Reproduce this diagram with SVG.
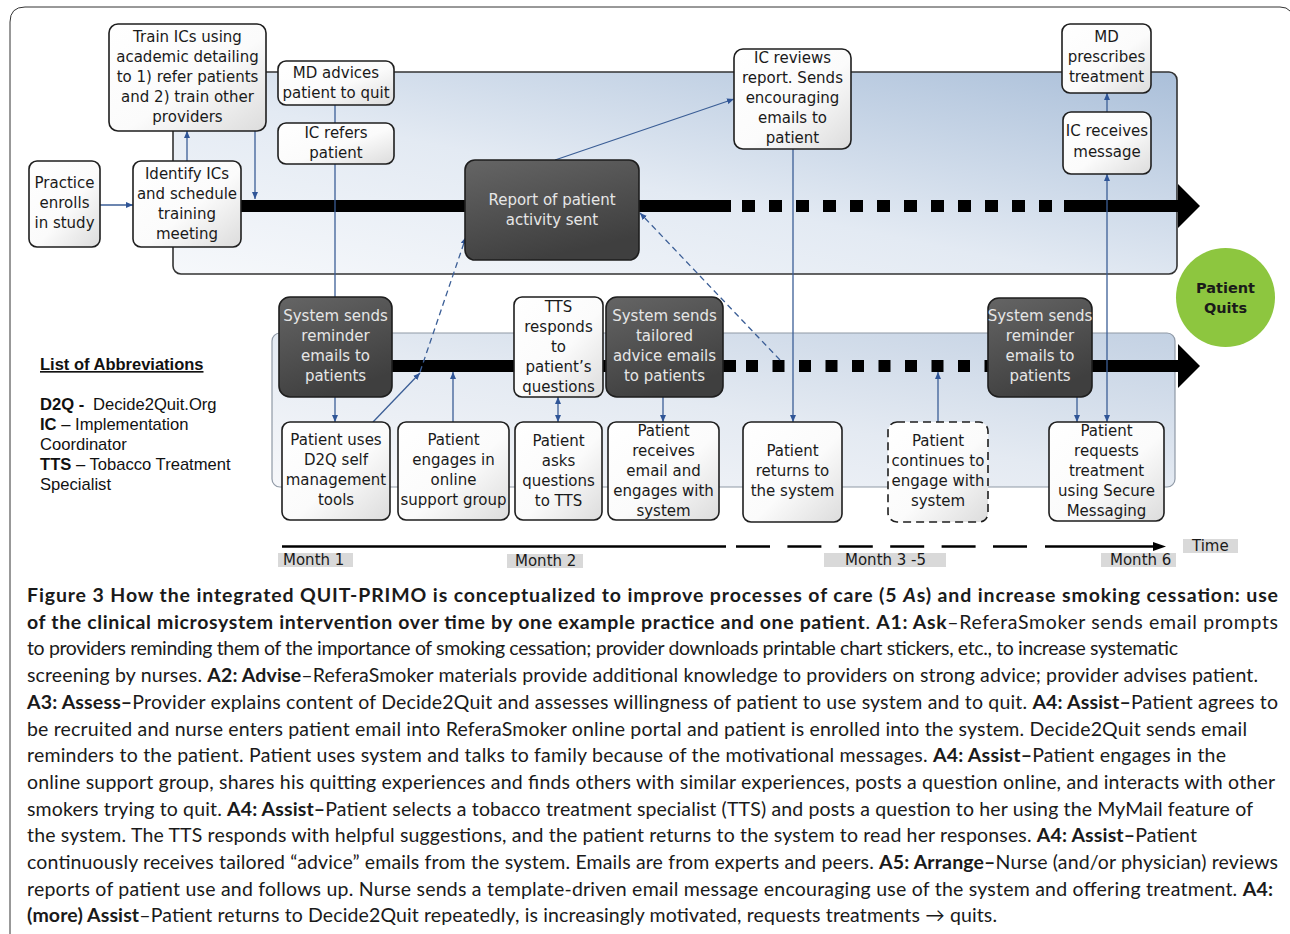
<svg xmlns="http://www.w3.org/2000/svg" width="1290" height="934" viewBox="0 0 1290 934">
<defs>
<linearGradient id="gUp" x1="0" y1="1" x2="1" y2="0">
<stop offset="0" stop-color="#f6f8fb"/><stop offset="0.45" stop-color="#e3eaf3"/><stop offset="1" stop-color="#aabfd9"/>
</linearGradient>
<linearGradient id="gLo" x1="0" y1="1" x2="1" y2="0">
<stop offset="0" stop-color="#f6f7fa"/><stop offset="0.5" stop-color="#e4eaf2"/><stop offset="1" stop-color="#c3d1e3"/>
</linearGradient>
<linearGradient id="gW" x1="0" y1="0" x2="1" y2="1">
<stop offset="0" stop-color="#ffffff"/><stop offset="0.55" stop-color="#fbfbfb"/><stop offset="1" stop-color="#dcdcdc"/>
</linearGradient>
<linearGradient id="gD" x1="0" y1="0" x2="0.4" y2="1">
<stop offset="0" stop-color="#656565"/><stop offset="1" stop-color="#3f3f3f"/>
</linearGradient>
<marker id="ah" viewBox="0 0 7 6" refX="7" refY="3" markerWidth="7" markerHeight="6" markerUnits="userSpaceOnUse" orient="auto-start-reverse">
<path d="M0,0 L7,3 L0,6 z" fill="#2f5597"/>
</marker>
<style>
.w{fill:url(#gW);stroke:#1e1e1e;stroke-width:1.6}
.d{fill:url(#gD);stroke:#1e1e1e;stroke-width:1.6}
.t{font-family:"DejaVu Sans",Verdana,sans-serif;font-size:15px;fill:#1a1a1a;text-anchor:middle}
.td{font-family:"DejaVu Sans",Verdana,sans-serif;font-size:15px;fill:#e6e6e6;text-anchor:middle}
.c{fill:none;stroke:#3b5e96;stroke-width:1.3}
.cd{fill:none;stroke:#3b5e96;stroke-width:1.3;stroke-dasharray:6 4}
.bar{stroke:#000;fill:none}
.ml{fill:#d9d9d9}
.mt{font-family:"DejaVu Sans",Verdana,sans-serif;font-size:15px;fill:#1a1a1a}
.ab{font-family:"Liberation Sans",Arial,sans-serif;font-size:16.6px;fill:#111}
.cap{font-family:Lato,"Open Sans",sans-serif;font-size:19.5px;fill:#1a1a1a}
.b{font-weight:700}
</style>
</defs>
<rect width="1290" height="934" fill="#ffffff"/>
<path d="M10,934 V22 Q10,7 25,7 H1280 Q1287,7 1290,11" fill="none" stroke="#333" stroke-width="1"/>

<g id="bands">
<rect x="173" y="72" width="1004" height="202" rx="8" fill="url(#gUp)" stroke="#333" stroke-width="1.6"/>
<rect x="272" y="333" width="903" height="154" rx="8" fill="url(#gLo)" stroke="#8f99a6" stroke-width="1.2"/>
</g>

<g id="timelines">
<line class="bar" x1="240" y1="206" x2="731" y2="206" stroke-width="12"/>
<line class="bar" x1="742" y1="206" x2="1053" y2="206" stroke-width="12" stroke-dasharray="13 14"/>
<line class="bar" x1="1064" y1="206" x2="1180" y2="206" stroke-width="12"/>
<polygon points="1178,184 1200,206 1178,228" fill="#000"/>
<line class="bar" x1="300" y1="366" x2="736" y2="366" stroke-width="12"/>
<line class="bar" x1="746" y1="366" x2="996" y2="366" stroke-width="12" stroke-dasharray="12 14.5"/>
<line class="bar" x1="1090" y1="366" x2="1180" y2="366" stroke-width="12"/>
<polygon points="1178,344 1200,366 1178,388" fill="#000"/>
</g>

<g id="connectors">
<line class="c" x1="100" y1="205" x2="133" y2="205" marker-end="url(#ah)"/>
<line class="c" x1="187" y1="161" x2="187" y2="131" marker-end="url(#ah)"/>
<line class="c" x1="255" y1="131" x2="255" y2="199" marker-end="url(#ah)"/>
<line class="c" x1="335" y1="105" x2="335" y2="297"/>
<line class="c" x1="555" y1="160" x2="734" y2="99" marker-end="url(#ah)"/>
<line class="c" x1="793" y1="149" x2="793" y2="422" marker-end="url(#ah)"/>
<line class="c" x1="1107" y1="112" x2="1107" y2="93" marker-end="url(#ah)"/>
<line class="c" x1="1107" y1="422" x2="1107" y2="174" marker-start="url(#ah)" marker-end="url(#ah)"/>
<line class="c" x1="335" y1="397" x2="335" y2="422" marker-end="url(#ah)"/>
<line class="c" x1="373" y1="422" x2="420" y2="373" marker-end="url(#ah)"/>
<line class="cd" x1="420" y1="372" x2="466" y2="237" marker-end="url(#ah)"/>
<line class="c" x1="453" y1="422" x2="453" y2="372" marker-end="url(#ah)"/>
<line class="c" x1="558" y1="397" x2="558" y2="422" marker-start="url(#ah)" marker-end="url(#ah)"/>
<line class="c" x1="663" y1="397" x2="663" y2="422" marker-end="url(#ah)"/>
<line class="cd" x1="780" y1="360" x2="640" y2="213" marker-end="url(#ah)"/>
<line class="c" x1="938" y1="422" x2="938" y2="372" marker-end="url(#ah)"/>
<line class="c" x1="1077" y1="397" x2="1077" y2="422" marker-end="url(#ah)"/>
</g>

<g id="n-practice"><rect class="w" x="29" y="161" width="71" height="86" rx="8"/>
<text class="t" x="64.5" y="188">Practice</text><text class="t" x="64.5" y="208">enrolls</text><text class="t" x="64.5" y="228">in study</text></g>

<g id="n-train"><rect class="w" x="109" y="24" width="157" height="107" rx="9"/>
<text class="t" x="187.5" y="42">Train ICs using</text><text class="t" x="187.5" y="62">academic detailing</text><text class="t" x="187.5" y="82">to 1) refer patients</text><text class="t" x="187.5" y="102">and 2) train other</text><text class="t" x="187.5" y="122">providers</text></g>

<g id="n-mdadvices"><rect class="w" x="278" y="61" width="116" height="44" rx="8"/>
<text class="t" x="336" y="78">MD advices</text><text class="t" x="336" y="98">patient to quit</text></g>

<g id="n-icrefers"><rect class="w" x="278" y="123" width="116" height="41" rx="8"/>
<text class="t" x="336" y="138">IC refers</text><text class="t" x="336" y="158">patient</text></g>

<g id="n-identify"><rect class="w" x="133" y="161" width="108" height="86" rx="8"/>
<text class="t" x="187" y="179">Identify ICs</text><text class="t" x="187" y="199">and schedule</text><text class="t" x="187" y="219">training</text><text class="t" x="187" y="239">meeting</text></g>

<g id="n-report"><rect class="d" x="465" y="160" width="174" height="100" rx="10"/>
<text class="td" x="552" y="205">Report of patient</text><text class="td" x="552" y="225">activity sent</text></g>

<g id="n-icreviews"><rect class="w" x="734" y="49" width="117" height="100" rx="9"/>
<text class="t" x="792.5" y="63">IC reviews</text><text class="t" x="792.5" y="83">report. Sends</text><text class="t" x="792.5" y="103">encouraging</text><text class="t" x="792.5" y="123">emails to</text><text class="t" x="792.5" y="143">patient</text></g>

<g id="n-mdprescribes"><rect class="w" x="1062" y="24" width="89" height="69" rx="8"/>
<text class="t" x="1106.5" y="42">MD</text><text class="t" x="1106.5" y="62">prescribes</text><text class="t" x="1106.5" y="82">treatment</text></g>

<g id="n-icreceives"><rect class="w" x="1063" y="112" width="88" height="62" rx="8"/>
<text class="t" x="1107" y="136">IC receives</text><text class="t" x="1107" y="157">message</text></g>

<g id="n-quits"><circle cx="1225.5" cy="297.5" r="49.5" fill="#8dc63f"/>
<text class="t b" x="1225.5" y="292.5" style="font-size:14.5px">Patient</text><text class="t b" x="1225.5" y="312.5" style="font-size:14.5px">Quits</text></g>

<g id="n-remind1"><rect class="d" x="279" y="297" width="113" height="100" rx="11"/>
<text class="td" x="335.5" y="321">System sends</text><text class="td" x="335.5" y="341">reminder</text><text class="td" x="335.5" y="361">emails to</text><text class="td" x="335.5" y="381">patients</text></g>

<g id="n-uses"><rect class="w" x="282" y="422" width="108" height="98" rx="8"/>
<text class="t" x="336" y="445">Patient uses</text><text class="t" x="336" y="465">D2Q self</text><text class="t" x="336" y="485">management</text><text class="t" x="336" y="505">tools</text></g>

<g id="n-engages"><rect class="w" x="398" y="422" width="111" height="98" rx="8"/>
<text class="t" x="453.5" y="445">Patient</text><text class="t" x="453.5" y="465">engages in</text><text class="t" x="453.5" y="485">online</text><text class="t" x="453.5" y="505">support group</text></g>

<g id="n-ttsresp"><rect class="w" x="514" y="297" width="89" height="100" rx="8"/>
<text class="t" x="558.5" y="312">TTS</text><text class="t" x="558.5" y="332">responds</text><text class="t" x="558.5" y="352">to</text><text class="t" x="558.5" y="372">patient’s</text><text class="t" x="558.5" y="392">questions</text></g>

<g id="n-asks"><rect class="w" x="515" y="422" width="87" height="98" rx="8"/>
<text class="t" x="558.5" y="446">Patient</text><text class="t" x="558.5" y="466">asks</text><text class="t" x="558.5" y="486">questions</text><text class="t" x="558.5" y="506">to TTS</text></g>

<g id="n-tailored"><rect class="d" x="606" y="297" width="117" height="100" rx="11"/>
<text class="td" x="664.5" y="321">System sends</text><text class="td" x="664.5" y="341">tailored</text><text class="td" x="664.5" y="361">advice emails</text><text class="td" x="664.5" y="381">to patients</text></g>

<g id="n-receives"><rect class="w" x="608" y="422" width="111" height="98" rx="8"/>
<text class="t" x="663.5" y="436">Patient</text><text class="t" x="663.5" y="456">receives</text><text class="t" x="663.5" y="476">email and</text><text class="t" x="663.5" y="496">engages with</text><text class="t" x="663.5" y="516">system</text></g>

<g id="n-returns"><rect class="w" x="743" y="422" width="99" height="100" rx="8"/>
<text class="t" x="792.5" y="456">Patient</text><text class="t" x="792.5" y="476">returns to</text><text class="t" x="792.5" y="496">the system</text></g>

<g id="n-continues"><rect x="888" y="422" width="100" height="100" rx="9" fill="url(#gW)" stroke="#1e1e1e" stroke-width="1.6" stroke-dasharray="8 5"/>
<text class="t" x="938" y="446">Patient</text><text class="t" x="938" y="466">continues to</text><text class="t" x="938" y="486">engage with</text><text class="t" x="938" y="506">system</text></g>

<g id="n-remind2"><rect class="d" x="988" y="298" width="104" height="99" rx="11"/>
<text class="td" x="1040" y="321">System sends</text><text class="td" x="1040" y="341">reminder</text><text class="td" x="1040" y="361">emails to</text><text class="td" x="1040" y="381">patients</text></g>

<g id="n-requests"><rect class="w" x="1049" y="422" width="115" height="99" rx="8"/>
<text class="t" x="1106.5" y="436">Patient</text><text class="t" x="1106.5" y="456">requests</text><text class="t" x="1106.5" y="476">treatment</text><text class="t" x="1106.5" y="496">using Secure</text><text class="t" x="1106.5" y="516">Messaging</text></g>

<g id="time-axis">
<line x1="282" y1="546.5" x2="726" y2="546.5" stroke="#000" stroke-width="2.5"/>
<line x1="736" y1="546.5" x2="1028" y2="546.5" stroke="#000" stroke-width="2.5" stroke-dasharray="34 17.4"/>
<line x1="1045" y1="546.5" x2="1156" y2="546.5" stroke="#000" stroke-width="2.5"/>
<polygon points="1153,542 1166,546.5 1153,551" fill="#000"/>
<rect class="ml" x="278" y="553" width="75" height="14"/><text class="mt" x="283" y="565">Month 1</text>
<rect class="ml" x="507" y="554" width="76" height="14"/><text class="mt" x="515" y="566">Month 2</text>
<rect class="ml" x="824" y="553" width="122" height="14"/><text class="mt" x="845" y="565">Month 3 -5</text>
<rect class="ml" x="1101" y="553" width="75" height="14"/><text class="mt" x="1110" y="565">Month 6</text>
<rect class="ml" x="1183" y="539" width="55" height="14"/><text class="mt" x="1192" y="551">Time</text>
</g>

<g id="abbreviations">
<text class="ab b" x="40" y="370" style="font-size:16.5px;text-decoration:underline">List of Abbreviations</text>
<text class="ab" x="40" y="410"><tspan class="b">D2Q -</tspan><tspan x="93">Decide2Quit.Org</tspan></text>
<text class="ab" x="40" y="430"><tspan class="b">IC</tspan> – Implementation</text>
<text class="ab" x="40" y="450">Coordinator</text>
<text class="ab" x="40" y="470"><tspan class="b">TTS</tspan> – Tobacco Treatment</text>
<text class="ab" x="40" y="490">Specialist</text>
</g>

<g id="caption">
<text class="cap b" x="27" y="602" textLength="1251" lengthAdjust="spacing">Figure 3 How the integrated QUIT-PRIMO is conceptualized to improve processes of care (5 <tspan font-style="italic">A</tspan>s) and increase smoking cessation: use</text>
<text class="cap" x="27" y="628.7" textLength="1251" lengthAdjust="spacing"><tspan class="b">of the clinical microsystem intervention over time by one example practice and one patient</tspan>. <tspan class="b">A1: Ask</tspan>–ReferaSmoker sends email prompts</text>
<text class="cap" x="27" y="655.4" textLength="1151" lengthAdjust="spacing">to providers reminding them of the importance of smoking cessation; provider downloads printable chart stickers, etc., to increase systematic</text>
<text class="cap" x="27" y="682.1" textLength="1231" lengthAdjust="spacing">screening by nurses. <tspan class="b">A2: Advise</tspan>–ReferaSmoker materials provide additional knowledge to providers on strong advice; provider advises patient.</text>
<text class="cap" x="27" y="708.8" textLength="1251" lengthAdjust="spacing"><tspan class="b">A3: Assess–</tspan>Provider explains content of Decide2Quit and assesses willingness of patient to use system and to quit. <tspan class="b">A4: Assist–</tspan>Patient agrees to</text>
<text class="cap" x="27" y="735.5" textLength="1220" lengthAdjust="spacing">be recruited and nurse enters patient email into ReferaSmoker online portal and patient is enrolled into the system. Decide2Quit sends email</text>
<text class="cap" x="27" y="762.2" textLength="1199" lengthAdjust="spacing">reminders to the patient. Patient uses system and talks to family because of the motivational messages. <tspan class="b">A4: Assist–</tspan>Patient engages in the</text>
<text class="cap" x="27" y="788.9" textLength="1248" lengthAdjust="spacing">online support group, shares his quitting experiences and finds others with similar experiences, posts a question online, and interacts with other</text>
<text class="cap" x="27" y="815.6" textLength="1226" lengthAdjust="spacing">smokers trying to quit. <tspan class="b">A4: Assist–</tspan>Patient selects a tobacco treatment specialist (TTS) and posts a question to her using the MyMail feature of</text>
<text class="cap" x="27" y="842.3" textLength="1170" lengthAdjust="spacing">the system. The TTS responds with helpful suggestions, and the patient returns to the system to read her responses. <tspan class="b">A4: Assist–</tspan>Patient</text>
<text class="cap" x="27" y="869" textLength="1251" lengthAdjust="spacing">continuously receives tailored “advice” emails from the system. Emails are from experts and peers. <tspan class="b">A5: Arrange–</tspan>Nurse (and/or physician) reviews</text>
<text class="cap" x="27" y="895.7" textLength="1246" lengthAdjust="spacing">reports of patient use and follows up. Nurse sends a template-driven email message encouraging use of the system and offering treatment. <tspan class="b">A4:</tspan></text>
<text class="cap" x="27" y="922.4" textLength="970" lengthAdjust="spacing"><tspan class="b">(more) Assist</tspan>–Patient returns to Decide2Quit repeatedly, is increasingly motivated, requests treatments → quits.</text>
</g>
</svg>
